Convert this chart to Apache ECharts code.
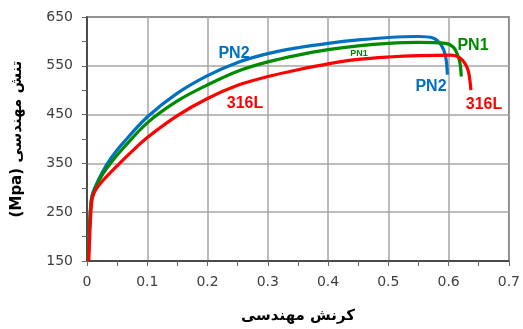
<!DOCTYPE html>
<html><head><meta charset="utf-8">
<script src="https://cdn.jsdelivr.net/npm/echarts@6/dist/echarts.min.js"></script>
<style>html,body{margin:0;padding:0;background:#fff}#c{width:523px;height:329px}</style>
</head><body><div id="c"></div>
<script>
const xTicks = [0, 0.1, 0.2, 0.3, 0.4, 0.5, 0.6, 0.7];
const yTicks = [150, 250, 350, 450, 550, 650];
const seriesNames = ['PN2', 'PN1', '316L'];
const pn2 = [[0.002,150],[0.005,240],[0.008,282],[0.014,303],[0.025,331],[0.04,361],[0.06,392],[0.1,445],[0.15,494],[0.2,530],[0.25,557],[0.3,575],[0.35,587],[0.4,596],[0.45,603],[0.5,608],[0.55,610],[0.574,607],[0.588,592],[0.595,569],[0.598,532]];
const pn1 = [[0.002,150],[0.005,240],[0.008,280],[0.014,300],[0.025,326],[0.04,352],[0.06,381],[0.1,433],[0.15,478],[0.2,511],[0.25,539],[0.3,558],[0.35,572],[0.4,583],[0.45,591],[0.5,596],[0.55,598],[0.595,596],[0.608,588],[0.615,572],[0.619,555],[0.621,528]];
const s316 = [[0.003,150],[0.006,240],[0.009,280],[0.015,297],[0.025,313],[0.05,345],[0.075,375],[0.1,403],[0.15,448],[0.2,483],[0.25,510],[0.3,528],[0.35,542],[0.4,554],[0.45,563],[0.5,568],[0.55,571],[0.605,572],[0.618,567],[0.627,555],[0.633,538],[0.637,500]];
const colors = ['#0070C0', '#008A00', '#FF0000'];
const xTitle = 'کرنش مهندسی';
const yTitle = '(Mpa) تنش مهندسی';

const chart = echarts.init(document.getElementById('c'), null, {renderer: 'canvas'});
const tickFont = {fontFamily: 'DejaVu Sans', fontSize: 14, color: '#404040'};
const lbl = (t, x, y, c, s) => ({type: 'text', x: x, y: y, z: 10, style: {text: t, fill: c, font: 'bold ' + s + 'px "Liberation Sans", Arial', align: 'center', verticalAlign: 'middle'}});
chart.setOption({
  animation: false,
  grid: {left: 87, top: 17, right: 14, bottom: 58, show: true, borderColor: '#222', borderWidth: 1.5, backgroundColor: 'transparent'},
  xAxis: {
    type: 'value', min: xTicks[0], max: xTicks[xTicks.length - 1], interval: 0.1,
    axisLine: {lineStyle: {color: '#333', width: 1.5}},
    axisTick: {show: true, length: 5, lineStyle: {color: '#666'}},
    minorTick: {show: true, splitNumber: 2, length: 5, lineStyle: {color: '#666'}},
    splitLine: {show: true, lineStyle: {color: '#a6a6a6', width: 1.5}},
    axisLabel: Object.assign({margin: 14, formatter: v => String(Math.round(v * 10) / 10)}, tickFont),
    name: xTitle, nameLocation: 'middle', nameGap: 48,
    nameTextStyle: {fontFamily: 'DejaVu Sans', fontWeight: 'bold', fontSize: 15, color: '#000'}
  },
  yAxis: {
    type: 'value', min: yTicks[0], max: yTicks[yTicks.length - 1], interval: 100,
    axisLine: {show: true, lineStyle: {color: '#333', width: 1.5}},
    axisTick: {show: true, length: 5, lineStyle: {color: '#666'}},
    minorTick: {show: true, splitNumber: 2, length: 5, lineStyle: {color: '#666'}},
    splitLine: {show: true, lineStyle: {color: '#a6a6a6', width: 1.5}},
    axisLabel: Object.assign({margin: 14}, tickFont),
    name: yTitle, nameLocation: 'middle', nameGap: 62, nameRotate: 90,
    nameTextStyle: {fontFamily: 'DejaVu Sans', fontWeight: 'bold', fontSize: 15, color: '#000'}
  },
  series: [pn2, pn1, s316].map((d, i) => ({
    name: seriesNames[i], type: 'line', data: d, showSymbol: false, smooth: 0.35,
    lineStyle: {color: colors[i], width: 3.2}, z: 3 + i
  })),
  graphic: [
    lbl('PN2', 234, 54, colors[0], 16),
    lbl('316L', 245, 104, colors[2], 16),
    lbl('PN1', 359, 54, colors[1], 9),
    lbl('PN1', 473, 46, colors[1], 16),
    lbl('PN2', 431, 87, colors[0], 16),
    lbl('316L', 484, 105, colors[2], 16)
  ]
});
</script></body></html>
